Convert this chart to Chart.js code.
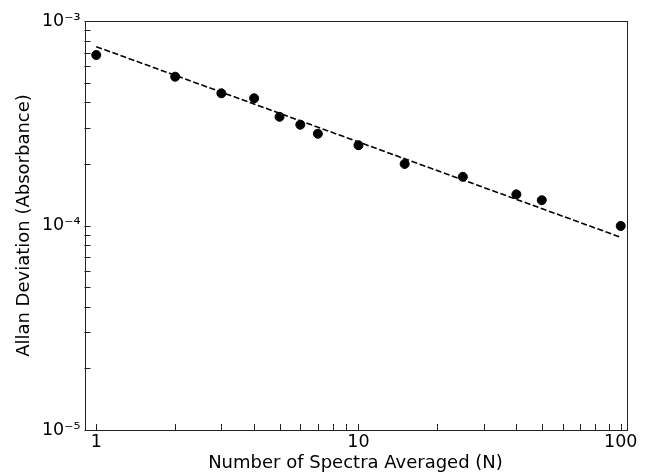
<!DOCTYPE html>
<html>
<head>
<meta charset="utf-8">
<script src="https://cdn.jsdelivr.net/npm/chart.js@4"></script>
<style>
  html, body { margin: 0; padding: 0; background: #fff; }
  #wrap { width: 649px; height: 474px; }
</style>
</head>
<body>
<div id="wrap"><canvas id="chart" width="649" height="474"></canvas></div>
<script>
// averaged spectra count vs. Allan deviation
const nAveraged = [1, 2, 3, 4, 5, 6, 7, 10, 15, 25, 40, 50, 100];
const allanDev = [6.82e-4, 5.34e-4, 4.43e-4, 4.19e-4, 3.40e-4, 3.11e-4, 2.81e-4,
                  2.47e-4, 2.00e-4, 1.73e-4, 1.42e-4, 1.33e-4, 9.95e-5];

// power-law fit, end points
const fitN = [1, 100];
const fitDev = [7.49e-4, 8.76e-5];

const xMajor = [1, 10, 100];
const xLabels = ["1", "10", "100"];
const yMajor = [1e-5, 1e-4, 1e-3];
const yLabels = ["10\u207B\u2075", "10\u207B\u2074", "10\u207B\u00B3"];

const FONT = "'DejaVu Sans', sans-serif";

function minorsFor(lo, hi) {
  const out = [];
  for (let d = lo; d < hi; d *= 10) {
    for (let k = 2; k <= 9; k++) out.push(k * d);
  }
  return out;
}

// inward ticks + full frame
const frameTicks = {
  id: 'frameTicks',
  afterDraw(chart) {
    const {ctx, chartArea: a, scales} = chart;
    const xs = scales.x, ys = scales.y;
    const len = 6;
    ctx.save();
    ctx.strokeStyle = '#222';
    ctx.lineWidth = 1;
    ctx.beginPath();
    xMajor.concat(minorsFor(1, 100)).forEach(v => {
      const px = Math.round(xs.getPixelForValue(v)) + 0.5;
      if (px < a.left || px > a.right) return;
      ctx.moveTo(px, a.bottom);
      ctx.lineTo(px, a.bottom - len);
    });
    yMajor.concat(minorsFor(1e-5, 1e-3)).forEach(v => {
      const py = Math.round(ys.getPixelForValue(v)) + 0.5;
      ctx.moveTo(a.left, py);
      ctx.lineTo(a.left + len, py);
    });
    ctx.stroke();
    ctx.strokeRect(Math.round(a.left) + 0.5, Math.round(a.top) + 0.5,
                   Math.round(a.right - a.left), Math.round(a.bottom - a.top));
    ctx.restore();
  }
};

new Chart(document.getElementById('chart'), {
  type: 'scatter',
  data: {
    datasets: [
      {
        type: 'scatter',
        data: nAveraged.map((n, i) => ({x: n, y: allanDev[i]})),
        backgroundColor: '#000',
        borderColor: '#000',
        pointRadius: 4.5,
        order: 1
      },
      {
        type: 'line',
        data: fitN.map((n, i) => ({x: n, y: fitDev[i]})),
        borderColor: '#000',
        borderWidth: 1.6,
        borderDash: [6, 2.6],
        pointRadius: 0,
        fill: false,
        order: 2
      }
    ]
  },
  options: {
    responsive: false,
    animation: false,
    layout: { padding: { left: 0, right: 22.5, top: 21, bottom: 0 } },
    plugins: { legend: { display: false }, tooltip: { enabled: false } },
    scales: {
      x: {
        type: 'logarithmic',
        min: 0.902,
        max: 105.2,
        grid: { display: false, drawTicks: false },
        border: { display: false },
        afterBuildTicks: s => { s.ticks = xMajor.map(v => ({value: v})); },
        afterFit: s => { s.height = 44; },
        ticks: {
          padding: 2,
          color: '#000',
          font: { family: FONT, size: 17.5 },
          maxRotation: 0,
          callback: (v) => xLabels[xMajor.indexOf(v)] ?? ''
        },
        title: {
          display: true,
          text: 'Number of Spectra Averaged (N)',
          color: '#000',
          font: { family: FONT, size: 18, lineHeight: 1.2 },
          padding: { top: 0, bottom: 0 }
        }
      },
      y: {
        type: 'logarithmic',
        min: 1e-5,
        max: 1e-3,
        grid: { display: false, drawTicks: false },
        border: { display: false },
        afterBuildTicks: s => { s.ticks = yMajor.map(v => ({value: v})); },
        afterFit: s => { s.width = 84.5; },
        ticks: {
          padding: 4,
          color: '#000',
          font: { family: FONT, size: 17.5 },
          callback: (v) => {
            const i = yMajor.findIndex(m => Math.abs(m - v) / m < 1e-6);
            return i >= 0 ? yLabels[i] : '';
          }
        },
        title: {
          display: true,
          text: 'Allan Deviation (Absorbance)',
          color: '#000',
          font: { family: FONT, size: 18, lineHeight: 1.2 },
          padding: { top: 14, bottom: 0 }
        }
      }
    }
  },
  plugins: [frameTicks]
});
</script>
</body>
</html>
